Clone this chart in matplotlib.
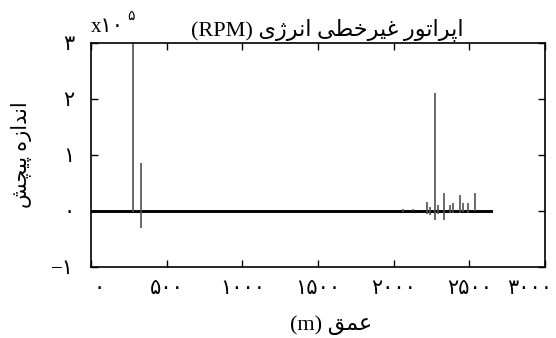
import matplotlib
matplotlib.use('Agg')
import matplotlib.pyplot as plt
import matplotlib.transforms as mtransforms

# depth (m) and energy operator values (x 1e5)
spike_depth = [278, 331, 2063, 2129, 2222, 2241, 2274, 2294, 2334, 2373, 2393, 2439, 2459, 2492, 2538]
spike_high = [3.0, 0.85, 0.03, 0.04, 0.16, 0.08, 2.1, 0.10, 0.32, 0.10, 0.15, 0.28, 0.15, 0.15, 0.32]
spike_low = [-0.02, -0.30, -0.02, 0.0, -0.05, -0.08, -0.16, -0.05, -0.16, -0.03, -0.03, -0.03, -0.02, -0.03, 0.0]
base_depth = [0, 2640]
base_value = [0, 0]

xticks = [0, 500, 1000, 1500, 2000, 2500, 3000]
xtick_labels = ['۰', '۵۰۰', '۱۰۰۰', '۱۵۰۰', '۲۰۰۰', '۲۵۰۰', '۳۰۰۰']
yticks = [-1, 0, 1, 2, 3]
ytick_labels = ['−۱', '۰', '۱', '۲', '۳']

# persian text, already shaped (presentation forms) and in visual order
title_fa = ''.join(reversed('\uFE8D\uFB58\uFEAE\uFE8D\uFE97\uFEEE\uFEAD \uFECF\uFBFF\uFEAE\uFEA7\uFEC4\uFBFD \uFE8D\uFEE7\uFEAE\uFB8A\uFBFC'))
ylabel_fa = ''.join(reversed('\uFE8D\uFEE7\uFEAA\uFE8D\uFEAF\uFEE9 \uFB58\uFBFF\uFB7D\uFEB6'))
xlabel_fa = ''.join(reversed('\uFECB\uFEE4\uFED6'))

fam = ['Liberation Serif', 'DejaVu Sans']

fig = plt.figure(figsize=(5.56, 3.38), dpi=100)
ax = fig.add_axes([0.1637, 0.210, 0.8165, 0.6628])

ax.plot(base_depth, base_value, color='black', lw=2.1)
ax.vlines(spike_depth, spike_low, spike_high, color='#505050', lw=1.2)

ax.set_xlim(0, 3000)
ax.set_ylim(-1, 3)
ax.set_xticks(xticks)
ax.set_xticklabels(xtick_labels, family=fam, fontsize=15)
ax.set_yticks(yticks)
ax.set_yticklabels(ytick_labels, family=fam, fontsize=15)
ax.tick_params(direction='in', length=5, width=1, top=True, right=True, pad=9)
ax.tick_params(axis='y', pad=12)
for s in ax.spines.values():
    s.set_linewidth(1.2)

# nudge first and last x labels like the original
labs = ax.get_xticklabels()
labs[0].set_transform(labs[0].get_transform() + mtransforms.ScaledTranslation(0.08, 0, fig.dpi_scale_trans))
labs[-1].set_transform(labs[-1].get_transform() + mtransforms.ScaledTranslation(-0.15, 0, fig.dpi_scale_trans))

ax.set_title('(RPM) ' + title_fa, family=fam, fontsize=16, x=0.52, pad=6)
ax.set_xlabel('(m) ' + xlabel_fa, family=fam, fontsize=16)
ax.xaxis.set_label_coords(0.53, -0.215)
ax.set_ylabel(ylabel_fa, family=fam, fontsize=15, labelpad=14)

fig.text(0.163, 0.905, 'x۱۰', family=fam, fontsize=15)
fig.text(0.228, 0.94, '۵', family=fam, fontsize=10)

fig.savefig('out.png', dpi=100)
